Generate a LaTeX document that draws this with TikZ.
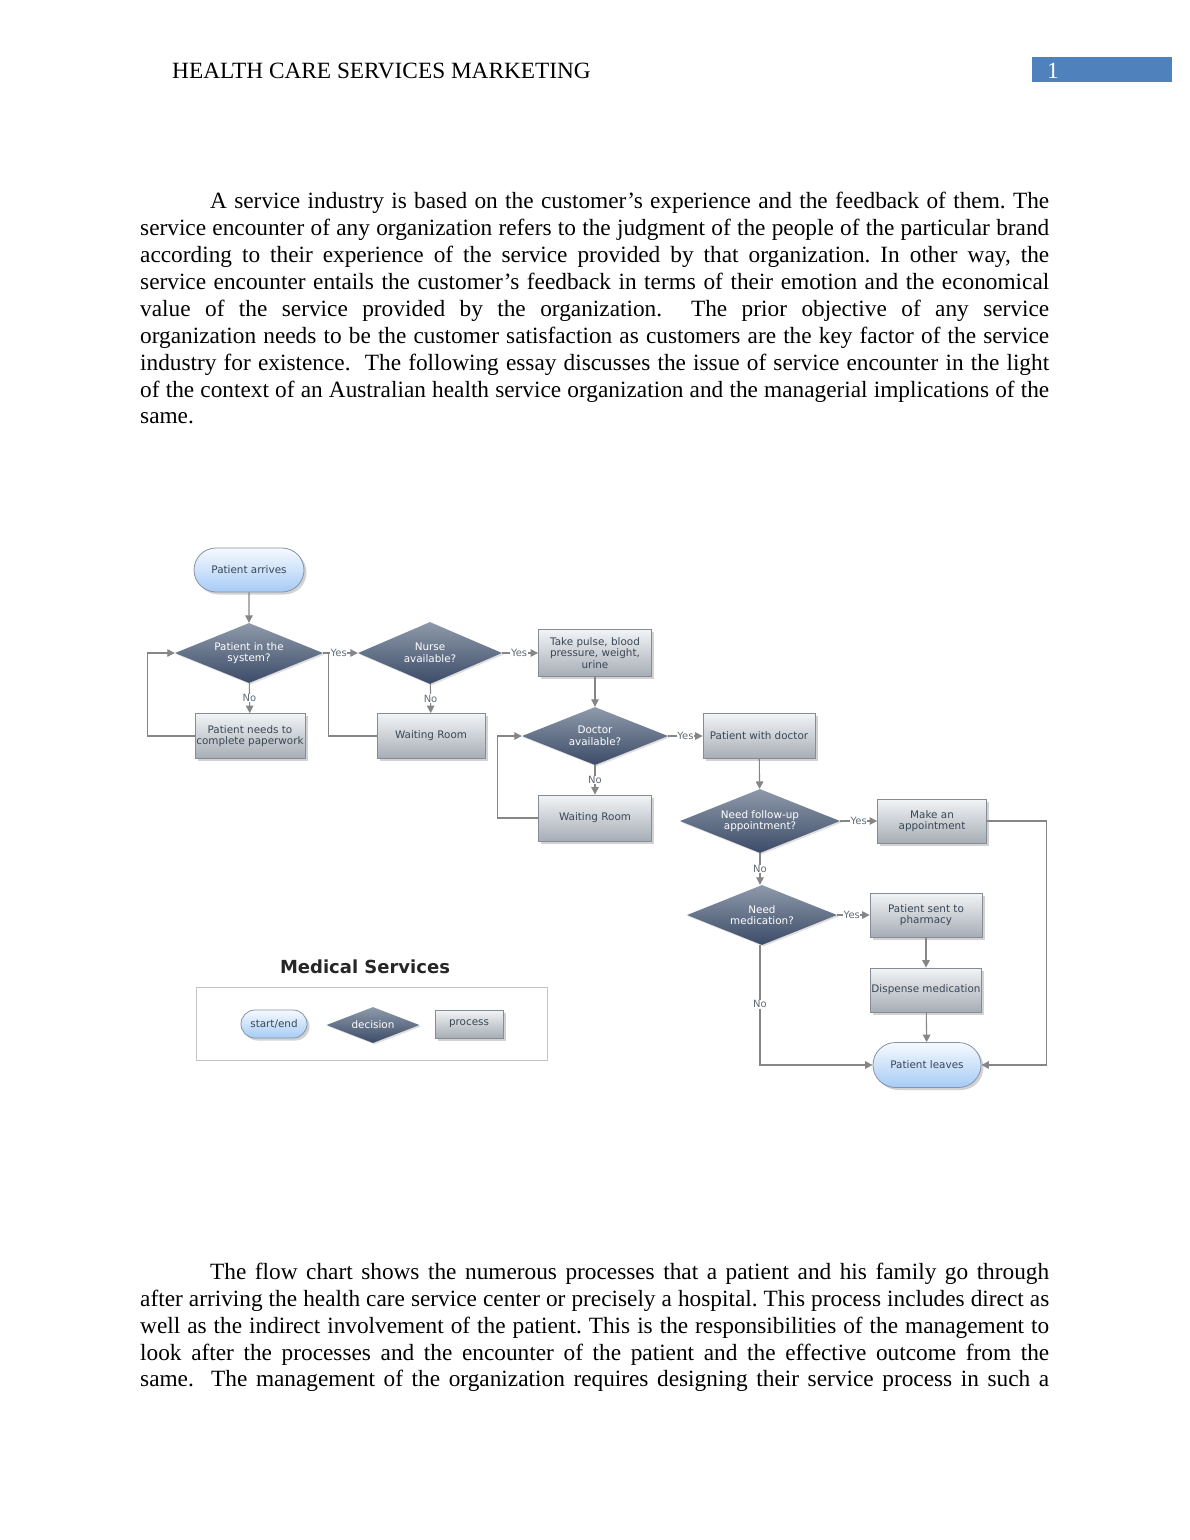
\documentclass[tikz,border=0pt]{standalone}
\usepackage{fontspec}
\setmainfont{Liberation Serif}
\newfontfamily\bodyfont{Liberation Serif}
\newfontfamily\fcfont{DejaVu Sans}
\usetikzlibrary{shapes.geometric,shapes.misc,arrows.meta,shadows}
\definecolor{lnc}{HTML}{868686}
\definecolor{fctext}{HTML}{3A4654}
\definecolor{dtop}{HTML}{8E9AAA}
\definecolor{dbot}{HTML}{3C4B68}
\definecolor{ptop}{HTML}{F2F4F6}
\definecolor{pbot}{HTML}{A6ADB5}
\definecolor{pbord}{HTML}{858C95}
\definecolor{stop}{HTML}{F6FAFE}
\definecolor{sbot}{HTML}{A6CBF6}
\definecolor{sbord}{HTML}{8393A8}
\definecolor{hdrblue}{HTML}{4F81BD}
\definecolor{legbord}{HTML}{C4C4C4}
\newcommand{\bodysize}{\fontsize{23.3}{26.8}\selectfont}
\newcommand{\fcsize}{\fontsize{10.4}{11.6}\selectfont}
\tikzset{
  bodyline/.style={anchor=base west, inner sep=0pt, font=\bodyfont\bodysize\frenchspacing},
  fcbase/.style={font=\fcfont\fcsize, text=fctext, align=center, inner sep=1pt},
  procbox/.style={fcbase, rectangle, draw=pbord, line width=0.8pt, top color=ptop, bottom color=pbot,
    drop shadow={shadow xshift=2.5pt, shadow yshift=-2.5pt, opacity=0.35}},
  startend/.style={fcbase, rounded rectangle, draw=sbord, line width=0.8pt, top color=stop, bottom color=sbot,
    drop shadow={shadow xshift=2.5pt, shadow yshift=-2.5pt, opacity=0.35}},
  decis/.style={fcbase, diamond, text=white, draw=none, top color=dtop, bottom color=dbot, aspect=2.4, inner sep=0pt,
    drop shadow={shadow xshift=1.5pt, shadow yshift=-1.5pt, opacity=0.25}},
  conn/.style={draw=lnc, line width=1.1pt, -{Triangle[width=7.5pt,length=7.5pt]}},
  plainconn/.style={draw=lnc, line width=1.1pt},
  lbl/.style={font=\fcfont\fontsize{10}{10}\selectfont, text=fctext!80, fill=white, inner sep=0.6pt},
}
\begin{document}
\begin{tikzpicture}[x=1pt,y=-1pt]
\useasboundingbox[fill=white] (0,0) rectangle (1190,1540);

% header
\node[bodyline] (hdr) at (172,78) {HEALTH CARE SERVICES MARKETING};
\fill[hdrblue] (1032,57) rectangle (1172,82);
\node[bodyline, text=white] (pgnum) at (1047,78) {1};

% paragraph 1
\node[bodyline] (p1a) at (210,208) {\makebox[839pt][s]{A service industry is based on the customer’s experience and the feedback of them. The}};
\node[bodyline] (p1b) at (140,235) {\makebox[909pt][s]{service encounter of any organization refers to the judgment of the people of the particular brand}};
\node[bodyline] (p1c) at (140,262) {\makebox[909pt][s]{according to their experience of the service provided by that organization. In other way, the}};
\node[bodyline] (p1d) at (140,289) {\makebox[909pt][s]{service encounter entails the customer’s feedback in terms of their emotion and the economical}};
\node[bodyline] (p1e) at (140,316) {\makebox[909pt][s]{value of the service provided by the organization. \ The prior objective of any service}};
\node[bodyline] (p1f) at (140,343) {\makebox[909pt][s]{organization needs to be the customer satisfaction as customers are the key factor of the service}};
\node[bodyline] (p1g) at (140,370) {\makebox[909pt][s]{industry for existence. \ The following essay discusses the issue of service encounter in the light}};
\node[bodyline] (p1h) at (140,397) {\makebox[909pt][s]{of the context of an Australian health service organization and the managerial implications of the}};
\node[bodyline] (p1i) at (140,423) {same.};

% paragraph 2
\node[bodyline] (p2a) at (210,1279) {\makebox[839pt][s]{The flow chart shows the numerous processes that a patient and his family go through}};
\node[bodyline] (p2b) at (140,1306) {\makebox[909pt][s]{after arriving the health care service center or precisely a hospital. This process includes direct as}};
\node[bodyline] (p2c) at (140,1333) {\makebox[909pt][s]{well as the indirect involvement of the patient. This is the responsibilities of the management to}};
\node[bodyline] (p2d) at (140,1360) {\makebox[909pt][s]{look after the processes and the encounter of the patient and the effective outcome from the}};
\node[bodyline] (p2e) at (140,1386) {\makebox[909pt][s]{same. \ The management of the organization requires designing their service process in such a}};

% flowchart nodes
\node[startend, minimum width=112pt, minimum height=44pt] (arr) at (249,570) {Patient arrives};
\node[decis, minimum width=148pt, minimum height=60pt] (d1) at (249,653) {Patient in the\\system?};
\node[procbox, minimum width=110pt, minimum height=45pt] (paper) at (250,736) {Patient needs to\\complete paperwork};
\node[decis, minimum width=144pt, minimum height=62pt] (d2) at (430,653) {Nurse\\available?};
\node[procbox, minimum width=108pt, minimum height=45pt] (wr1) at (431,736) {Waiting Room};
\node[procbox, minimum width=113pt, minimum height=47pt] (pulse) at (595,653) {Take pulse, blood\\pressure, weight,\\urine};
\node[decis, minimum width=146pt, minimum height=58pt] (d3) at (595,736) {Doctor\\available?};
\node[procbox, minimum width=112pt, minimum height=45pt] (doc) at (759,736) {Patient with doctor};
\node[procbox, minimum width=113pt, minimum height=46pt] (wr2) at (595,818) {Waiting Room};
\node[decis, minimum width=160pt, minimum height=64pt] (d4) at (760,821) {Need follow-up\\appointment?};
\node[procbox, minimum width=109pt, minimum height=44pt] (appt) at (932,821) {Make an\\appointment};
\node[decis, minimum width=150pt, minimum height=60pt] (d5) at (762,915) {Need\\medication?};
\node[procbox, minimum width=112pt, minimum height=44pt] (pharm) at (926,915) {Patient sent to\\pharmacy};
\node[procbox, minimum width=111pt, minimum height=44pt] (disp) at (926,990) {Dispense medication};
\node[startend, minimum width=110pt, minimum height=45pt] (leave) at (927,1065) {Patient leaves};

% connectors
\draw[conn] (arr) -- (d1);
\draw[conn] (d1) -- (paper) node[lbl, pos=0.5] (no1) {No};
\draw[conn] (paper.west) -- ++(-47,0) coordinate (c1) |- (d1.west);
\draw[conn] (d1.east) -- (d2.west) node[lbl, pos=0.45] (yes1) {Yes};
\draw[conn] (d2) -- (wr1) node[lbl, pos=0.5] (no2) {No};
\draw[plainconn] (wr1.west) -- ++(-48,0) coordinate (c2) |- (d1.east -| c2);
\draw[conn] (d2.east) -- (pulse.west) node[lbl, pos=0.47] (yes2) {Yes};
\draw[conn] (pulse) -- (d3);
\draw[conn] (d3.east) -- (doc.west) node[lbl, pos=0.5] (yes3) {Yes};
\draw[conn] (d3) -- (wr2) node[lbl, pos=0.5] (no3) {No};
\draw[conn] (wr2.west) -- ++(-41,0) coordinate (c3) |- (d3.west);
\draw[conn] (doc) -- (d4);
\draw[conn] (d4.east) -- (appt.west) node[lbl, pos=0.5] (yes4) {Yes};
\draw[conn] (d4.south -| d4.center) -- (d5.north -| d4.center) node[lbl, pos=0.5] (no4) {No};
\draw[conn] (d5.east) -- (pharm.west) node[lbl, pos=0.45] (yes5) {Yes};
\draw[conn] (pharm) -- (disp);
\draw[conn] (disp) -- (leave);
\draw[conn] (appt.east) -- ++(60,0) coordinate (c4) |- (leave.east);
\draw[plainconn] (d5.south -| d4.center) -- (760,1004) node[lbl] (no5) {No};
\draw[conn] (no5.south) |- (leave.west);

% legend
\node[font=\fcfont\bfseries\fontsize{18}{20}\selectfont, text=black!85] (legtitle) at (365,967) {Medical Services};
\draw[legbord, line width=0.8pt] (196,987) rectangle (547,1060);
\node[startend, minimum width=68pt, minimum height=28pt] (lstart) at (274,1024) {start/end};
\node[decis, minimum width=93pt, minimum height=36pt, aspect=2.6] (ldec) at (373,1025) {decision};
\node[procbox, minimum width=68pt, minimum height=28pt] (lproc) at (469,1024) {process};
\end{tikzpicture}
\end{document}
